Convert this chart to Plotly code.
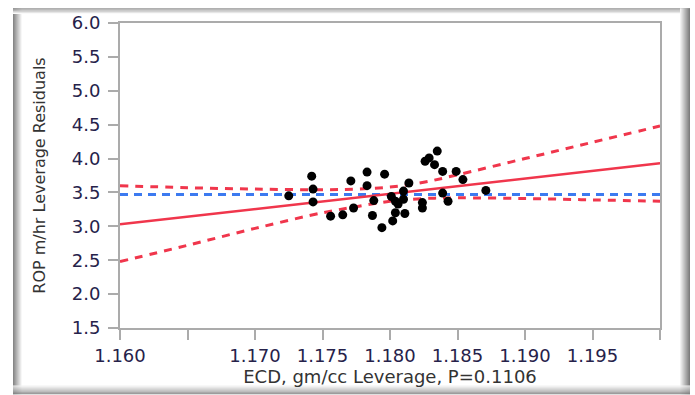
import plotly.graph_objects as go

# ---- data ----
ecd = [1.1725, 1.1742, 1.1743, 1.1743, 1.1756, 1.1765, 1.1771, 1.1773, 1.1783, 1.1783,
       1.1787, 1.1788, 1.1794, 1.1796, 1.1801, 1.1804, 1.1804, 1.1802, 1.1810, 1.1810,
       1.1806, 1.1811, 1.1814, 1.1824, 1.1824, 1.1826, 1.1829, 1.1833, 1.1835, 1.1839,
       1.1839, 1.1843, 1.1849, 1.1854, 1.1871]
rop = [3.45, 3.74, 3.55, 3.36, 3.15, 3.17, 3.67, 3.27, 3.80, 3.60,
       3.16, 3.38, 2.98, 3.77, 3.44, 3.37, 3.20, 3.08, 3.52, 3.40,
       3.33, 3.19, 3.64, 3.35, 3.27, 3.96, 4.01, 3.91, 4.11, 3.81,
       3.49, 3.37, 3.81, 3.69, 3.53]

fit_x = [1.160, 1.200]
fit_y = [3.03, 3.93]
mean_x = [1.160, 1.200]
mean_y = [3.47, 3.47]

ci_x = [1.160, 1.165, 1.170, 1.175, 1.1775, 1.180, 1.1825, 1.185, 1.190, 1.195, 1.200]
ci_upper = [3.60, 3.57, 3.55, 3.54, 3.55, 3.58, 3.65, 3.76, 4.00, 4.24, 4.48]
ci_lower = [2.48, 2.72, 2.97, 3.20, 3.29, 3.37, 3.41, 3.42, 3.41, 3.39, 3.37]

x_ticks = [1.160, 1.165, 1.170, 1.175, 1.180, 1.185, 1.190, 1.195, 1.200]
x_ticktext = ["1.160", "", "1.170", "1.175", "1.180", "1.185", "1.190", "1.195", ""]
y_ticks = [1.5, 2.0, 2.5, 3.0, 3.5, 4.0, 4.5, 5.0, 5.5, 6.0]
y_ticktext = ["1.5", "2.0", "2.5", "3.0", "3.5", "4.0", "4.5", "5.0", "5.5", "6.0"]

RED = "#F0364C"
BLUE = "#3C7AF0"
FONT = "DejaVu Sans"

fig = go.Figure()
fig.add_trace(go.Scatter(x=mean_x, y=mean_y, mode="lines",
                         line=dict(color=BLUE, width=3, dash="8px,6px"), hoverinfo="skip"))
fig.add_trace(go.Scatter(x=ci_x, y=ci_upper, mode="lines", line_shape="spline",
                         line=dict(color=RED, width=3, dash="8px,7px"), hoverinfo="skip"))
fig.add_trace(go.Scatter(x=ci_x, y=ci_lower, mode="lines", line_shape="spline",
                         line=dict(color=RED, width=3, dash="8px,7px"), hoverinfo="skip"))
fig.add_trace(go.Scatter(x=fit_x, y=fit_y, mode="lines",
                         line=dict(color=RED, width=2.5), hoverinfo="skip"))
fig.add_trace(go.Scatter(x=ecd, y=rop, mode="markers",
                         marker=dict(color="black", size=9, line=dict(width=0))))

# ---- outer frame with soft shading (pixel -> paper conversion) ----
L, R, T, B = 120, 660, 20, 328
def px(x):
    return (x - L) / (R - L)
def py(y):
    return (B - y) / (B - T)

def grey(v):
    v = int(max(0, min(255, v)))
    return f"rgb({v},{v},{v})"

shapes = []
# left edge gradient
for i in range(9):
    shapes.append(dict(type="rect", xref="paper", yref="paper",
                       x0=px(13 + i), x1=px(14 + i), y0=py(395), y1=py(5),
                       fillcolor=grey(135 + i * 14), line=dict(width=0), layer="above"))
# top edge gradient
for i in range(6):
    shapes.append(dict(type="rect", xref="paper", yref="paper",
                       x0=px(13), x1=px(690), y0=py(6 + i), y1=py(5 + i),
                       fillcolor=grey(150 + i * 20), line=dict(width=0), layer="above"))
# right edge gradient
for i in range(10):
    shapes.append(dict(type="rect", xref="paper", yref="paper",
                       x0=px(689 - i), x1=px(690 - i), y0=py(395), y1=py(5),
                       fillcolor=grey(125 + i * 13), line=dict(width=0), layer="above"))
# bottom edge gradient
for i in range(9):
    shapes.append(dict(type="rect", xref="paper", yref="paper",
                       x0=px(13), x1=px(690), y0=py(395 - i), y1=py(394 - i),
                       fillcolor=grey(130 + i * 14), line=dict(width=0), layer="above"))

fig.update_layout(
    width=695, height=395,
    margin=dict(l=L, r=695 - R, t=T, b=395 - B),
    paper_bgcolor="white", plot_bgcolor="white",
    showlegend=False,
    shapes=shapes,
    font=dict(family=FONT, color="#333333"),
)
fig.update_xaxes(
    range=[1.16, 1.2], tickvals=x_ticks, ticktext=x_ticktext,
    showgrid=False, zeroline=False,
    showline=True, linecolor="#ababab", linewidth=2, mirror=True,
    ticks="outside", ticklen=10, tickcolor="#ababab", tickwidth=1.5,
    tickfont=dict(family=FONT, size=18, color="#26224a"),
    ticklabelstandoff=0,
    title=dict(text="ECD, gm/cc Leverage, P=0.1106",
               font=dict(family=FONT, size=18, color="#333333"), standoff=0),
)
fig.update_yaxes(
    range=[1.5, 6.0], tickvals=y_ticks, ticktext=y_ticktext,
    showgrid=False, zeroline=False,
    showline=True, linecolor="#ababab", linewidth=2, mirror=True,
    ticks="outside", ticklen=10, tickcolor="#ababab", tickwidth=1.5,
    tickfont=dict(family=FONT, size=18, color="#26224a"),
    ticklabelstandoff=4,
    title=dict(text="ROP m/hr Leverage Residuals",
               font=dict(family=FONT, size=16, color="#333333"), standoff=22),
)

fig.write_html("out.html")
